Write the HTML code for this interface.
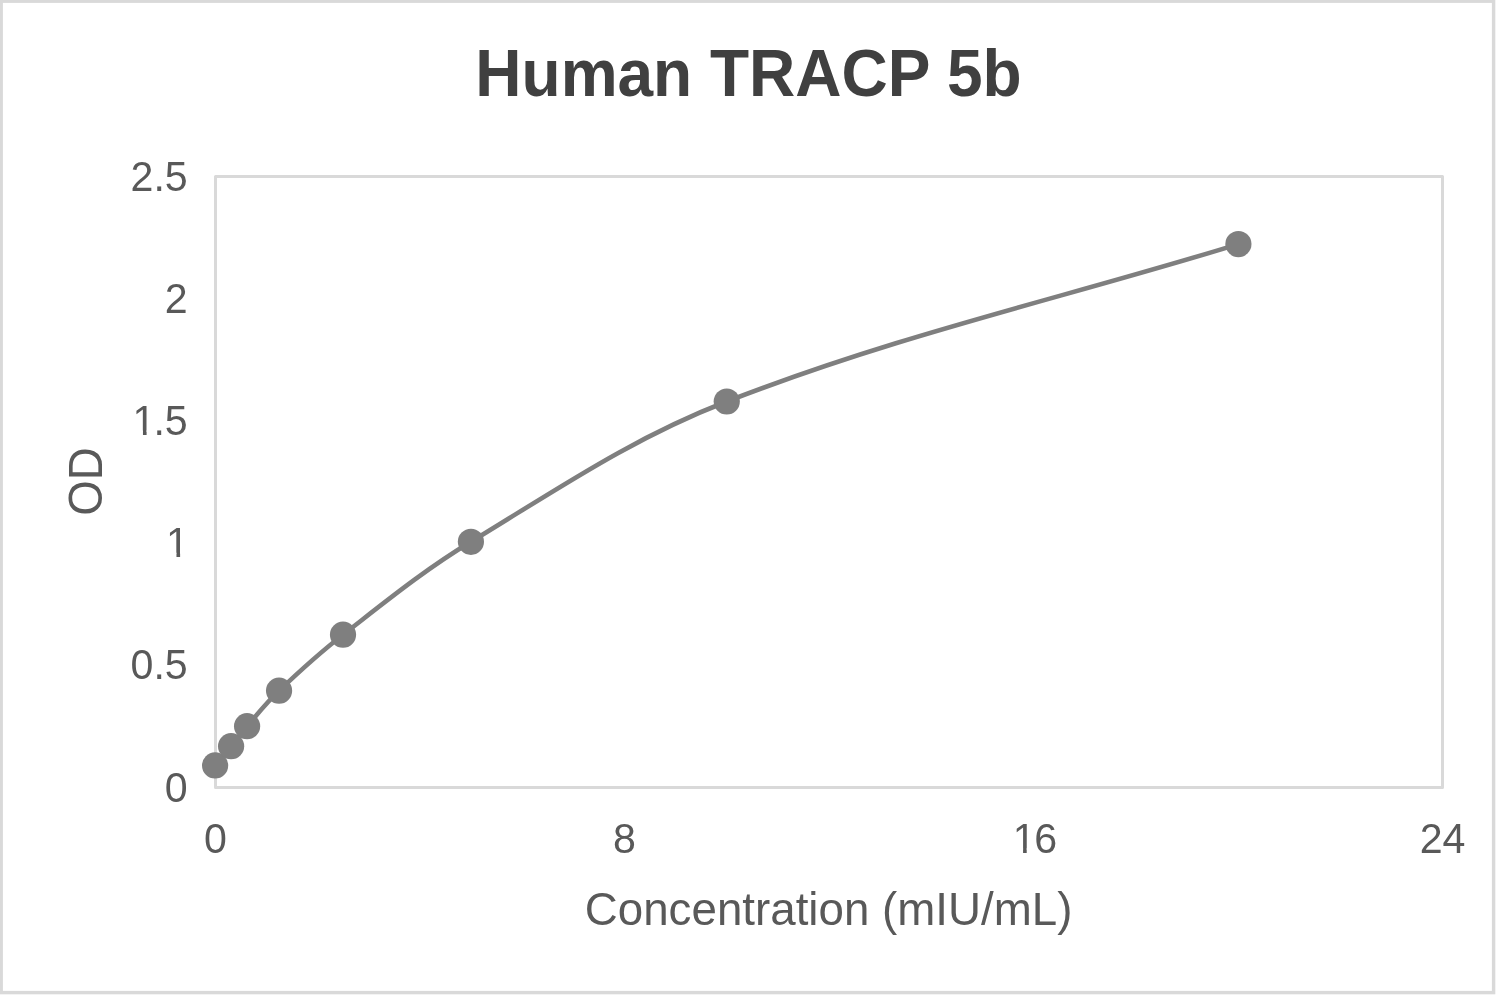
<!DOCTYPE html>
<html lang="en"><head><meta charset="utf-8"><title>Human TRACP 5b</title>
<style>
html,body{margin:0;padding:0;background:#fff;}
body{width:1496px;height:995px;overflow:hidden;}
svg{display:block;font-family:"Liberation Sans",Arial,Helvetica,sans-serif;}
</style></head><body>
<svg width="1496" height="995" viewBox="0 0 1496 995">
<defs>
<clipPath id="c0"><rect x="-120" y="-60" width="240" height="55.83"/><rect x="-12.53" y="-4.27" width="3.64" height="12"/><rect x="-1.00" y="-4.27" width="120" height="12"/></clipPath>
<clipPath id="c1"><rect x="-120" y="-60" width="240" height="55.83"/><rect x="-44.74" y="-4.27" width="3.64" height="12"/><rect x="-33.21" y="-4.27" width="120" height="12"/></clipPath>
<clipPath id="c2"><rect x="-120" y="-60" width="240" height="55.83"/><rect x="-11.88" y="-4.27" width="3.64" height="12"/><rect x="-0.35" y="-4.27" width="120" height="12"/></clipPath>
</defs>
<rect x="0" y="0" width="1496" height="995" fill="#ffffff"/>
<!-- chart area frame -->
<rect x="1.2" y="1.2" width="1492.4" height="991.4" fill="none" stroke="#d9d9d9" stroke-width="3.43"/>
<!-- plot area frame -->
<rect x="215.5" y="176.5" width="1227" height="611" fill="none" stroke="#d9d9d9" stroke-width="3" stroke-linejoin="round"/>
<!-- chart title -->
<text transform="translate(748.5,96) scale(1,1.03)" text-anchor="middle" font-size="64" font-weight="bold" fill="#404040">Human TRACP 5b</text>
<!-- axis tick labels -->
<g font-size="41.14" fill="#595959">
<text transform="translate(187.70,801.60) scale(1,1.05)" text-anchor="end">0</text>
<text transform="translate(187.70,679.40) scale(1,1.05)" text-anchor="end">0.5</text>
<text transform="translate(189.00,557.20) scale(1,1.05)" text-anchor="end" clip-path="url(#c0)">1</text>
<text transform="translate(187.70,435.00) scale(1,1.05)" text-anchor="end" clip-path="url(#c1)">1<tspan dx="-2.1">.5</tspan></text>
<text transform="translate(187.70,312.80) scale(1,1.05)" text-anchor="end">2</text>
<text transform="translate(187.70,190.60) scale(1,1.05)" text-anchor="end">2.5</text>
<text transform="translate(215.50,852.70) scale(1,1.05)" text-anchor="middle">0</text>
<text transform="translate(624.50,852.70) scale(1,1.05)" text-anchor="middle">8</text>
<text transform="translate(1034.95,852.70) scale(1,1.05)" text-anchor="middle" clip-path="url(#c2)">1<tspan dx="-1.3">6</tspan></text>
<text transform="translate(1442.50,852.70) scale(1,1.05)" text-anchor="middle">24</text>
</g>
<!-- axis titles -->
<text transform="translate(828.6,924.7) scale(1,1.015)" text-anchor="middle" font-size="45.71" fill="#595959">Concentration (mIU/mL)</text>
<text transform="translate(102,481.5) rotate(-90) scale(1,1.04)" text-anchor="middle" font-size="45.71" fill="#595959">OD</text>
<!-- series -->
<path d="M215.10,765.40 C220.70,758.68 225.56,752.98 231.09,746.20 C236.75,739.26 241.22,732.98 247.08,726.20 C258.01,713.55 266.96,702.24 279.06,690.70 C300.59,670.17 319.51,652.94 343.01,634.70 C386.72,600.78 423.64,570.54 470.92,541.80 C558.19,488.77 631.54,438.43 726.75,401.50 C901.43,333.74 1059.32,299.19 1238.40,244.10" fill="none" stroke="#7f7f7f" stroke-width="4.57" stroke-linecap="round" stroke-linejoin="round"/>
<g fill="#7f7f7f">
<circle cx="215.10" cy="765.40" r="13.1"/>
<circle cx="231.09" cy="746.20" r="13.1"/>
<circle cx="247.08" cy="726.20" r="13.1"/>
<circle cx="279.06" cy="690.70" r="13.1"/>
<circle cx="343.01" cy="634.70" r="13.1"/>
<circle cx="470.92" cy="541.80" r="13.1"/>
<circle cx="726.75" cy="401.50" r="13.1"/>
<circle cx="1238.40" cy="244.10" r="13.1"/>
</g>
</svg>
</body></html>
